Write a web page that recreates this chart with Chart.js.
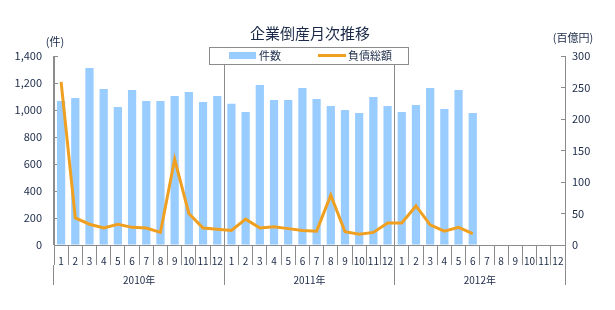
<!DOCTYPE html>
<html>
<head>
<meta charset="utf-8">
<script src="https://cdn.jsdelivr.net/npm/chart.js@4.4.1/dist/chart.umd.min.js"></script>
<style>
  html, body { margin: 0; padding: 0; background: #fff; }
  canvas { display: block; }
</style>
</head>
<body>
<canvas id="chart" width="615" height="310"></canvas>
<script>
// データ
const months = ['1','2','3','4','5','6','7','8','9','10','11','12',
                '1','2','3','4','5','6','7','8','9','10','11','12',
                '1','2','3','4','5','6','7','8','9','10','11','12'];
const years = ['2010年', '2011年', '2012年'];
// 件数（左軸）
const counts = [1067, 1089, 1311, 1155, 1022, 1148, 1067, 1067, 1104, 1133, 1059, 1104,
                1047, 985, 1185, 1074, 1074, 1163, 1081, 1029, 1000, 978, 1096, 1029,
                985, 1037, 1163, 1007, 1148, 978, null, null, null, null, null, null];
// 負債総額（右軸、百億円）
const debt = [259, 43, 33, 27, 33, 28, 27, 20, 136, 50, 27, 25,
              23, 41, 27, 29, 26, 23, 22, 79, 21, 17, 20, 35,
              35, 62, 32, 22, 28, 18, null, null, null, null, null, null];

const titleText = '企業倒産月次推移';
const leftUnit = '(件)';
const rightUnit = '(百億円)';
const legendLabels = ['件数', '負債総額'];

const textColor = '#1b2a48';
const axisColor = '#8c8c8c';
const barColor = '#99ccff';
const lineColor = '#f0a020';
const fontFamily = '"Noto Sans CJK JP", "Noto Sans", sans-serif';

// タイトル・単位・凡例を描く
const overlay = {
    id: 'overlay',
    afterDraw(chart) {
        const ctx = chart.ctx;
        ctx.save();
        ctx.fillStyle = textColor;
        ctx.textBaseline = 'middle';
        ctx.textAlign = 'center';
        ctx.font = '15px ' + fontFamily;
        ctx.fillText(titleText, 310, 33);
        ctx.font = '11px ' + fontFamily;
        ctx.fillText(leftUnit, 55, 42);
        ctx.fillText(rightUnit, 573, 38);

        // 凡例
        ctx.fillStyle = '#fff';
        ctx.fillRect(209.5, 47.5, 199, 17);
        ctx.strokeStyle = axisColor;
        ctx.lineWidth = 1;
        ctx.strokeRect(209.5, 47.5, 199, 17);
        ctx.fillStyle = barColor;
        ctx.fillRect(229, 52, 27, 7);
        ctx.strokeStyle = lineColor;
        ctx.lineWidth = 3;
        ctx.beginPath();
        ctx.moveTo(318, 55.5);
        ctx.lineTo(346, 55.5);
        ctx.stroke();
        ctx.fillStyle = textColor;
        ctx.textAlign = 'left';
        ctx.fillText(legendLabels[0], 259, 56);
        ctx.fillText(legendLabels[1], 348, 56);
        ctx.restore();
    }
};

new Chart(document.getElementById('chart'), {
    type: 'bar',
    data: {
        labels: months,
        datasets: [{
            type: 'line',
            label: legendLabels[1],
            data: debt,
            yAxisID: 'y1',
            borderColor: lineColor,
            borderWidth: 3,
            pointRadius: 0,
            tension: 0,
            fill: false,
            order: 0
        }, {
            type: 'bar',
            label: legendLabels[0],
            data: counts,
            yAxisID: 'y',
            backgroundColor: barColor,
            barPercentage: 0.58,
            categoryPercentage: 1,
            order: 1
        }]
    },
    options: {
        responsive: false,
        animation: false,
        locale: 'en-US',
        layout: { padding: { top: 56, bottom: 25, left: 0, right: 0 } },
        plugins: {
            legend: { display: false },
            title: { display: false },
            tooltip: { enabled: false }
        },
        scales: {
            x: {
                position: 'bottom',
                weight: 0,
                offset: true,
                grid: {
                    offset: true,
                    drawOnChartArea: false,
                    drawTicks: true,
                    tickLength: 20,
                    color: axisColor
                },
                border: { display: true, color: axisColor },
                ticks: {
                    autoSkip: false,
                    maxRotation: 0,
                    padding: -10,
                    color: textColor,
                    font: { family: fontFamily, size: 10 }
                },
                afterFit(scale) { scale.height = 20; }
            },
            x2: {
                type: 'category',
                labels: years,
                position: 'bottom',
                weight: 1,
                offset: true,
                grid: {
                    offset: true,
                    drawOnChartArea: true,
                    drawTicks: true,
                    tickLength: 20,
                    color: axisColor
                },
                border: { display: false },
                ticks: {
                    autoSkip: false,
                    maxRotation: 0,
                    padding: -11,
                    color: textColor,
                    font: { family: fontFamily, size: 10 }
                },
                afterFit(scale) { scale.height = 20; }
            },
            y: {
                position: 'left',
                min: 0,
                max: 1400,
                ticks: {
                    stepSize: 200,
                    padding: 16,
                    color: textColor,
                    font: { family: fontFamily, size: 11 }
                },
                grid: {
                    drawOnChartArea: false,
                    tickLength: -4,
                    color: axisColor
                },
                border: { display: true, color: axisColor },
                afterFit(scale) { scale.width = 54; }
            },
            y1: {
                position: 'right',
                min: 0,
                max: 300,
                ticks: {
                    stepSize: 50,
                    padding: 11,
                    color: textColor,
                    font: { family: fontFamily, size: 11 }
                },
                grid: {
                    drawOnChartArea: false,
                    tickLength: -4,
                    color: axisColor
                },
                border: { display: true, color: axisColor },
                afterFit(scale) { scale.width = 50; }
            }
        }
    },
    plugins: [overlay]
});
</script>
</body>
</html>
